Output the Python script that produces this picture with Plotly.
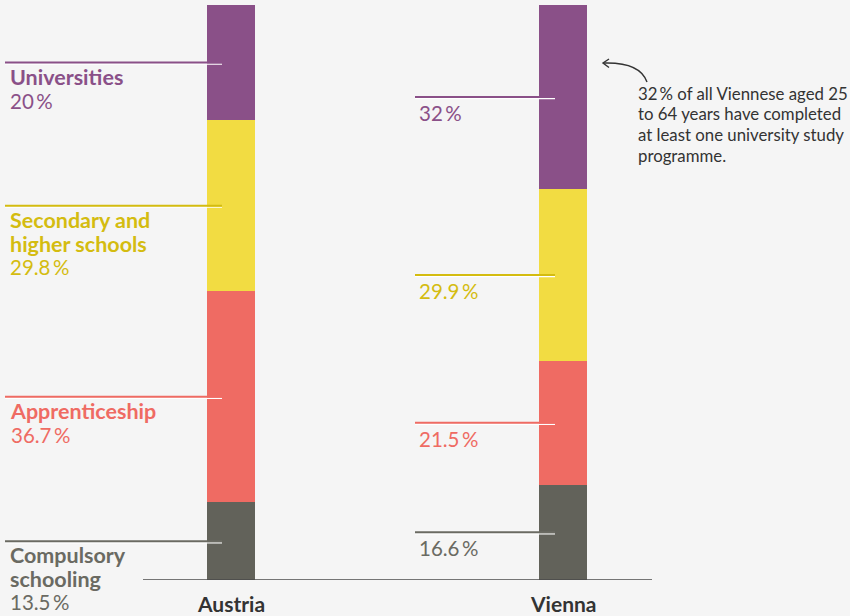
import plotly.graph_objects as go

# --- data -------------------------------------------------------------
regions = ["Austria", "Vienna"]
levels = ["Compulsory schooling", "Apprenticeship",
          "Secondary and higher schools", "Universities"]
level_lines = [["Compulsory", "schooling"], ["Apprenticeship"],
               ["Secondary and", "higher schools"], ["Universities"]]
austria = [13.5, 36.7, 29.8, 20]
vienna = [16.6, 21.5, 29.9, 32]
note_lines = ["32\u2009% of all Viennese aged 25", "to 64 years have completed",
              "at least one university study", "programme."]

# --- styling ----------------------------------------------------------
bar_colors = ["#62625A", "#EF6B63", "#F2DC42", "#8A5088"]
text_colors = ["#6A6A62", "#EF6B63", "#D4BC10", "#8A5088"]
BG = "#F5F5F5"
FONT = "Lato"
NAME_SIZE = 21.5                # bold category names
PCT_SIZE = 20.5                 # percentage figures
BASE_SIZE = 18.2                # sets the line pitch (1.3 x size)

W, H = 850, 616
TOP, BASE = 5, 580              # pixel rows of 100 % and 0 %
C0, STEP = 231, 332             # pixel centre of first bar, bar spacing
BAR_W = 48


def px_x(px):
    return (px - C0) / STEP


def px_dy(d):
    return d * 100 / (BASE - TOP)


def py(p):
    return (BASE - p) * 100 / (BASE - TOP)


def fmt(v):
    return f"{v:g}\u2009%"


def sized(txt, size):
    return f'<span style="font-size:{size}px">{txt}</span>'


series = {"Austria": austria, "Vienna": vienna}

fig = go.Figure()
for i, lvl in enumerate(levels):
    fig.add_trace(go.Bar(
        x=[0, 1], y=[austria[i], vienna[i]], name=lvl,
        width=BAR_W / STEP, marker=dict(color=bar_colors[i], line=dict(width=0)),
        hoverinfo="skip", showlegend=False,
    ))

shapes = []
annotations = []
# leader lines and labels
leader = {"Austria": (5, 222, 8), "Vienna": (415, 555, 417)}
for region in regions:
    vals = series[region]
    x_start, x_end, x_text = leader[region]
    cum = 0
    for i, v in enumerate(vals):
        mid = cum + v / 2
        cum += v
        shapes.append(dict(type="line", xref="x", yref="y",
                           x0=px_x(x_start), x1=px_x(x_end),
                           y0=mid - px_dy(1.6), y1=mid - px_dy(1.6),
                           line=dict(color="white", width=1.2)))
        shapes.append(dict(type="line", xref="x", yref="y",
                           x0=px_x(x_start), x1=px_x(x_end), y0=mid, y1=mid,
                           line=dict(color=text_colors[i], width=2)))
        if region == "Austria":
            parts = [sized(f"<b>{t}</b>", NAME_SIZE) for t in level_lines[i]]
            parts.append(sized(fmt(v), PCT_SIZE))
            annotations.append(dict(
                x=px_x(x_text), y=mid, xref="x", yref="y",
                text="<br>".join(parts),
                xanchor="left", yanchor="top", yshift=1, align="left",
                showarrow=False,
                font=dict(family=FONT, size=BASE_SIZE, color=text_colors[i])))
        else:
            annotations.append(dict(
                x=px_x(x_text), y=mid, xref="x", yref="y", text=fmt(v),
                xanchor="left", yanchor="middle", yshift=-16, align="left",
                showarrow=False,
                font=dict(family=FONT, size=PCT_SIZE, color=text_colors[i])))

# baseline
shapes.append(dict(type="line", xref="x", yref="y",
                   x0=px_x(143), x1=px_x(652), y0=0, y1=0,
                   line=dict(color="#4A4A4A", width=1.5)))

# hand-drawn style arrow towards the Vienna university segment
shapes.append(dict(
    type="path", xref="x", yref="y",
    path=(f"M {px_x(647)},{py(82)} Q {px_x(640)},{py(62)} {px_x(604)},{py(63)}"),
    line=dict(color="#333333", width=1.4)))
shapes.append(dict(
    type="path", xref="x", yref="y",
    path=(f"M {px_x(609)},{py(59)} L {px_x(603)},{py(63)} L {px_x(609)},{py(67.5)}"),
    line=dict(color="#333333", width=1.4)))

for k, txt in enumerate(note_lines):
    annotations.append(dict(
        x=px_x(636), y=py(93 + 20.7 * k), xref="x", yref="y", text=txt,
        xanchor="left", yanchor="middle", align="left", showarrow=False,
        font=dict(family=FONT, size=16.8, color="#333333")))

# category labels under the bars
for r, region in enumerate(regions):
    annotations.append(dict(
        x=r, y=0, xref="x", yref="y", text=f"<b>{region}</b>",
        xanchor="center", yanchor="middle", yshift=-23, showarrow=False,
        font=dict(family=FONT, size=21, color="#333333")))

fig.update_layout(
    width=W, height=H, barmode="stack",
    paper_bgcolor=BG, plot_bgcolor=BG,
    margin=dict(l=0, r=0, t=TOP, b=H - BASE),
    shapes=shapes, annotations=annotations,
    xaxis=dict(range=[px_x(0), px_x(W)], visible=False, fixedrange=True),
    yaxis=dict(range=[0, 100], visible=False, fixedrange=True),
    font=dict(family=FONT),
)

fig.write_html("out.html", config={"displayModeBar": False})
